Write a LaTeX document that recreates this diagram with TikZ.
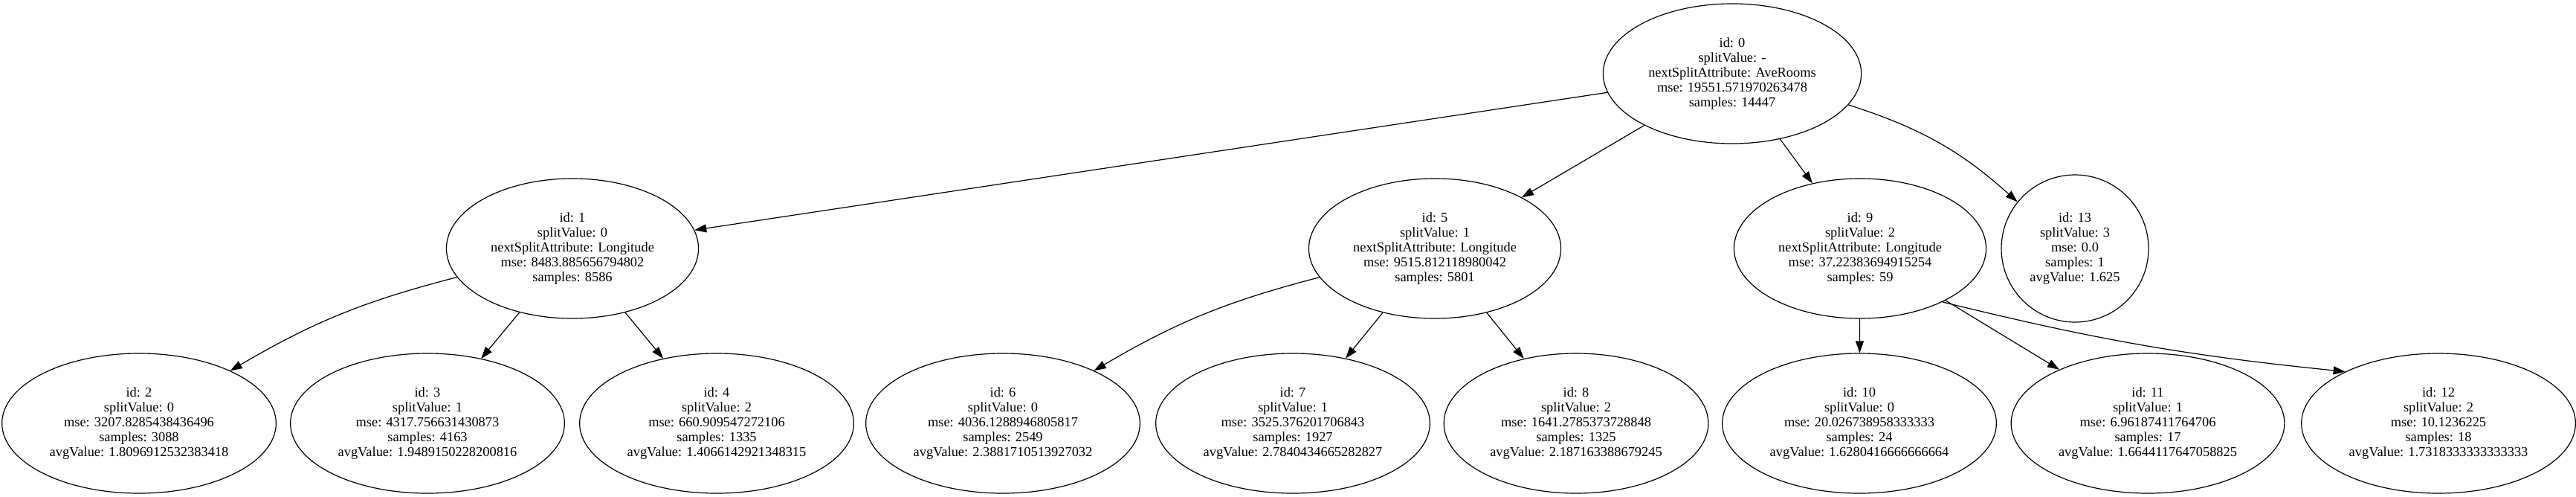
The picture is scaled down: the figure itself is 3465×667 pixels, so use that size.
\documentclass[tikz,border=0pt]{standalone}
\usepackage{fontspec}
\setmainfont{Liberation Serif}
\usetikzlibrary{arrows.meta, shapes.geometric}

\begin{document}
\begin{tikzpicture}[x=1pt,y=-1pt,
  every node/.style={font=\fontsize{18.4}{20}\selectfont},
  tnode/.style={draw,ellipse,align=center,line width=1.2pt,
        minimum height=188pt,inner xsep=10pt,inner ysep=2pt},
  arr/.style={-{Triangle[length=16pt,width=11pt]},line width=1.2pt}]
  \useasboundingbox (0,0) rectangle (3465,667);
  % root
  \node[tnode] (n0) at (2330,99) {id: 0\\splitValue: -\\nextSplitAttribute: AveRooms\\mse: 19551.571970263478\\samples: 14447};
  % second level
  \node[tnode] (n1) at (770,334) {id: 1\\splitValue: 0\\nextSplitAttribute: Longitude\\mse: 8483.885656794802\\samples: 8586};
  \node[tnode] (n5) at (1930,334) {id: 5\\splitValue: 1\\nextSplitAttribute: Longitude\\mse: 9515.812118980042\\samples: 5801};
  \node[tnode] (n9) at (2502,334) {id: 9\\splitValue: 2\\nextSplitAttribute: Longitude\\mse: 37.22383694915254\\samples: 59};
  \node[draw,circle,align=center,line width=1.2pt,minimum size=198pt,inner sep=2pt] (n13) at (2791,334)
        {id: 13\\splitValue: 3\\mse: 0.0\\samples: 1\\avgValue: 1.625};
  % leaves
  \node[tnode] (n2) at (187,569) {id: 2\\splitValue: 0\\mse: 3207.8285438436496\\samples: 3088\\avgValue: 1.8096912532383418};
  \node[tnode] (n3) at (575,569) {id: 3\\splitValue: 1\\mse: 4317.756631430873\\samples: 4163\\avgValue: 1.9489150228200816};
  \node[tnode] (n4) at (964,569) {id: 4\\splitValue: 2\\mse: 660.909547272106\\samples: 1335\\avgValue: 1.4066142921348315};
  \node[tnode] (n6) at (1349,569) {id: 6\\splitValue: 0\\mse: 4036.1288946805817\\samples: 2549\\avgValue: 2.3881710513927032};
  \node[tnode] (n7) at (1739,569) {id: 7\\splitValue: 1\\mse: 3525.376201706843\\samples: 1927\\avgValue: 2.7840434665282827};
  \node[tnode] (n8) at (2120,569) {id: 8\\splitValue: 2\\mse: 1641.2785373728848\\samples: 1325\\avgValue: 2.187163388679245};
  \node[tnode] (n10) at (2501,569) {id: 10\\splitValue: 0\\mse: 20.026738958333333\\samples: 24\\avgValue: 1.6280416666666664};
  \node[tnode] (n11) at (2889,569) {id: 11\\splitValue: 1\\mse: 6.96187411764706\\samples: 17\\avgValue: 1.6644117647058825};
  \node[tnode] (n12) at (3280,569) {id: 12\\splitValue: 2\\mse: 10.1236225\\samples: 18\\avgValue: 1.7318333333333333};
  % edges
  \draw[arr] (n0) -- (n1);
  \draw[arr] (n0) -- (n5);
  \draw[arr] (n0) -- (n9);
  \draw[arr] (n0) to[bend left=12] (n13);
  \draw[arr] (n1) to[bend right=8] (n2);
  \draw[arr] (n1) -- (n3);
  \draw[arr] (n1) -- (n4);
  \draw[arr] (n5) to[bend right=8] (n6);
  \draw[arr] (n5) -- (n7);
  \draw[arr] (n5) -- (n8);
  \draw[arr] (n9) -- (n10);
  \draw[arr] (n9) -- (n11);
  \draw[arr] (n9.-33) to[bend right=4] (n12.151);
\end{tikzpicture}
\end{document}
